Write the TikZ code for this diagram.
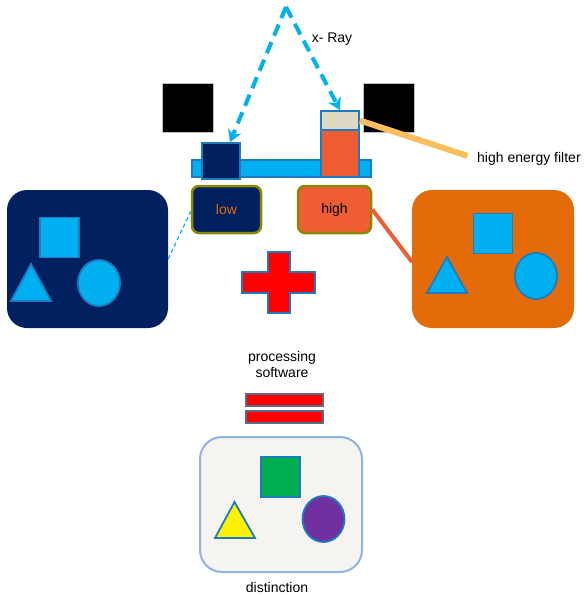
\documentclass[tikz,border=0pt]{standalone}
\usepackage{fontspec}
\setmainfont{Liberation Sans}
\usetikzlibrary{shapes.geometric,arrows.meta,calc}
\definecolor{cyanx}{HTML}{00B0F0}
\definecolor{navyx}{HTML}{002060}
\definecolor{edgex}{HTML}{1A7DC2}
\definecolor{olivex}{HTML}{898900}
\definecolor{orangex}{HTML}{E36C09}
\definecolor{redorx}{HTML}{EF5E33}
\definecolor{beigex}{HTML}{DDD9C3}
\definecolor{filterx}{HTML}{F9BF5F}
\definecolor{paperx}{HTML}{F5F4F1}
\definecolor{paneledge}{HTML}{8DB4E2}
\definecolor{eqedge}{HTML}{5A6A8A}
\definecolor{greenx}{HTML}{00B050}
\definecolor{purplex}{HTML}{7030A0}
\tikzset{
  txt/.style={font=\fontsize{14}{16}\selectfont, inner sep=0pt, align=center},
  panel/.style={rectangle, rounded corners=20pt, inner sep=0pt, draw=none},
  label box/.style={rectangle, rounded corners=7pt, draw=olivex, line width=2.5pt, inner sep=0pt, minimum width=69pt, minimum height=47pt, font=\fontsize{14}{16}\selectfont},
  plate/.style={rectangle, inner sep=0pt, draw=edgex, line width=1.8pt},
  shieldbox/.style={rectangle, inner sep=0pt, fill=black, draw=black!25, line width=0.6pt, minimum width=51pt, minimum height=49pt},
  sq/.style={rectangle, inner sep=0pt, draw=edgex, line width=1.8pt, minimum width=39pt, minimum height=40pt},
  ell/.style={ellipse, inner sep=0pt, draw=edgex, line width=1.8pt, minimum width=42pt, minimum height=46pt},
  tri/.style={draw=edgex, line width=1.8pt, line join=miter},
  ray/.style={draw=cyanx, line width=4pt, dash pattern=on 12pt off 7pt, -{Stealth[length=12pt,width=14pt]}},
  eqbar/.style={rectangle, inner sep=0pt, fill=red, draw=eqedge, line width=1.5pt, minimum width=77pt, minimum height=12pt}
}
\begin{document}
\begin{tikzpicture}[x=1pt,y=-1pt]
\useasboundingbox (0,0) rectangle (587,597);

\coordinate (src) at (286,7);
\node[txt] (xray) at (332,39) {x- Ray};

% left panel
\node[panel, fill=navyx, minimum width=161pt, minimum height=138pt] (bigL) at (87.5,259) {};
\node[sq, fill=cyanx] (sqL) at (59.5,237.5) {};
\draw[tri, fill=cyanx] (11,301) -- (31,264) -- (51,301) -- cycle;
\node[ell, fill=cyanx] (elL) at (99,283) {};

% right panel
\node[panel, fill=orangex, minimum width=162pt, minimum height=138pt] (bigR) at (493,259) {};
\node[sq, fill=cyanx] (sqR) at (493,233.5) {};
\draw[tri, fill=cyanx] (427,293) -- (447,257) -- (467,293) -- cycle;
\node[ell, fill=cyanx] (elR) at (536,276) {};

% detector plate
\node[plate, fill=cyanx, minimum width=179pt, minimum height=17pt] (bar) at (281.5,168.5) {};
\node[plate, fill=navyx, minimum width=38pt, minimum height=36pt] (lowdet) at (221,161) {};
\node[plate, fill=redorx, minimum width=38pt, minimum height=47pt] (highdet) at (340,153.5) {};
\node[plate, fill=beigex, minimum width=38pt, minimum height=19pt] (filt) at (340,120.5) {};

% shields
\node[shieldbox] (shL) at (187.5,107.5) {};
\node[shieldbox] (shR) at (388.5,107.5) {};

% filter label
\node[txt, anchor=west] (filtlab) at (477,159) {high energy filter};
\draw[filterx, line width=6pt, shorten >=10pt] (filt.east) -- (filtlab.west);

% x-rays
\draw[ray] (src) -- ($(lowdet.north)+(9,0)$);
\draw[ray] (src) -- (filt.north);

% low / high labels
\node[label box, fill=navyx, text=orangex] (low) at (226.5,209.5) {low};
\node[label box, fill=redorx, text=black, minimum width=73pt] (high) at (334.5,209.5) {high};

\draw[cyanx, line width=1.2pt, dash pattern=on 4pt off 3pt] (bigL.east) -- ($(low.west)+(0,2)$);
\coordinate (hitR) at (412,262);
\draw[redorx, line width=4pt] (high.east) -- (hitR);

% plus sign
\draw[fill=red, draw=edgex, line width=1.8pt]
  (268,252) -- (290,252) -- (290,272) -- (315,272) -- (315,293) -- (290,293) -- (290,313)
  -- (268,313) -- (268,293) -- (242,293) -- (242,272) -- (268,272) -- cycle;

% processing software
\node[txt] (proc) at (282,364) {processing\\ software};

% equals
\node[eqbar] (eq1) at (284.5,400) {};
\node[eqbar] (eq2) at (284.5,417) {};

% result panel
\node[panel, fill=paperx, draw=paneledge, line width=2pt, rounded corners=22pt, minimum width=162pt, minimum height=135pt] (bigB) at (281,504.5) {};
\node[sq, fill=greenx] (sqB) at (280.5,477) {};
\draw[tri, fill=yellow] (215,538) -- (234.5,502) -- (255,538) -- cycle;
\node[ell, fill=purplex] (elB) at (323.5,519) {};

\node[txt] (dist) at (277,587) {distinction};
\end{tikzpicture}
\end{document}
